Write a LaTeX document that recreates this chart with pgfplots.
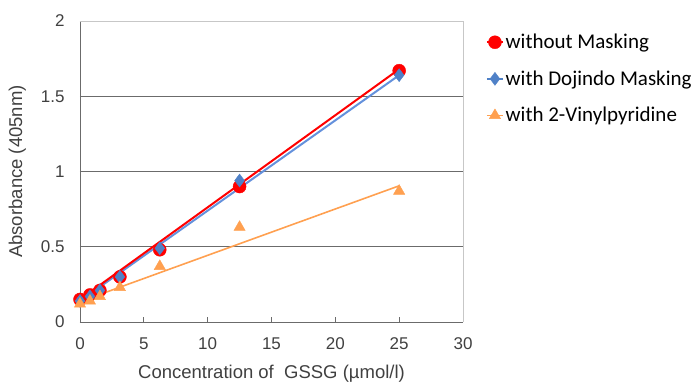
\documentclass[border=0pt]{standalone}
\usepackage{pgfplots}
\pgfplotsset{compat=1.18}
\usepackage{fontspec}
\setmainfont{Liberation Sans}
\newfontfamily\legfont{Carlito}
\definecolor{cred}{RGB}{255,0,0}
\definecolor{cblue}{RGB}{79,129,199}
\definecolor{cblueline}{RGB}{100,145,220}
\definecolor{corange}{RGB}{255,160,80}
\definecolor{txt}{RGB}{64,64,64}
\begin{document}
\begin{tikzpicture}[x=1pt,y=1pt]
\useasboundingbox (-80,-61) rectangle (615,322);
\begin{axis}[
  at={(0,0)}, anchor=south west,
  scale only axis, width=383pt, height=301pt,
  xmin=0, xmax=30, ymin=0, ymax=2,
  xtick={0,5,...,30}, ytick={0,0.5,...,2},
  yticklabels={0,0.5,1,1.5,2},
  xticklabels={0,5,10,15,20,25,30},
  axis lines*=left,
  axis line style={draw=black!58, line width=0.9pt, -},
  ymajorgrids, grid style={black!58, line width=0.9pt},
  major tick length=5pt,
  xtick align=inside,
  ytick style={draw=none},
  xtick style={draw=black!58, line width=0.8pt},
  tick label style={font=\fontsize{17}{19}\selectfont, text=txt},
  yticklabel style={xshift=-12pt},
  xticklabel style={yshift=-12pt},
  /pgf/number format/assume math mode=true,
  xlabel={Concentration of\ \ GSSG (\textmu mol/l)},
  ylabel={Absorbance (405nm)},
  label style={font=\fontsize{18.5}{20}\selectfont, text=txt},
  xlabel style={yshift=-9pt},
  ylabel style={yshift=8pt},
  legend style={at={(1,1)}, anchor=north west, xshift=23pt, yshift=-9pt,
     draw=none, fill=none, font=\legfont\fontsize{21}{22}\selectfont,
     row sep=16.5pt, text=black, inner xsep=0pt},
  legend cell align=left,
  legend image code/.code={
    \draw[#1, line width=1.5pt] (0pt,0pt) -- (16pt,0pt);
    \draw[#1, only marks] plot coordinates {(8pt,0pt)};
  },
  clip=false,
]
\addplot[only marks, mark=*, mark size=6.5pt, color=cred]
  coordinates {(0,0.15) (0.78,0.18) (1.56,0.21) (3.125,0.30) (6.25,0.48) (12.5,0.90) (25,1.67)};
\addlegendentry{without Masking}
\addplot[only marks, mark=diamond*, mark size=6.5pt, color=cblue]
  coordinates {(0,0.14) (0.78,0.17) (1.56,0.21) (3.125,0.30) (6.25,0.49) (12.5,0.94) (25,1.64)};
\addlegendentry{with Dojindo Masking}
\addplot[only marks, mark=triangle*, mark size=6.5pt, color=corange]
  coordinates {(0,0.12) (0.78,0.14) (1.56,0.17) (3.125,0.23) (6.25,0.37) (12.5,0.63) (25,0.87)};
\addlegendentry{with 2-Vinylpyridine}
\addplot[corange, line width=1.6pt, forget plot] coordinates {(0,0.135) (25,0.905)};
\addplot[cblueline, line width=2pt, forget plot] coordinates {(0,0.14) (25,1.64)};
\addplot[cred, line width=2pt, forget plot] coordinates {(0,0.15) (25,1.68)};
\draw[black!22, line width=0.9pt] (rel axis cs:0,1) -- (rel axis cs:1,1) -- (rel axis cs:1,0);
\end{axis}
\end{tikzpicture}
\end{document}
